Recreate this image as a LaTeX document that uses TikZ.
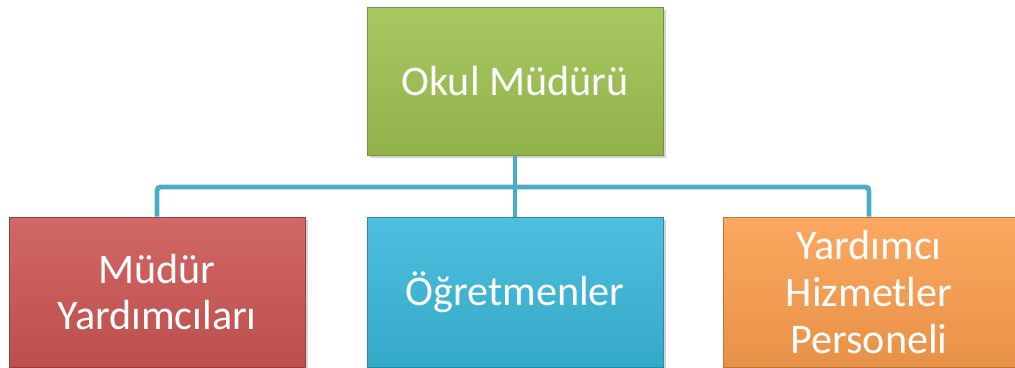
\documentclass[tikz,border=0pt]{standalone}
\usepackage{fontspec}
\setmainfont{Carlito}
\definecolor{okgreen}{RGB}{158,194,80}
\definecolor{okred}{RGB}{204,86,84}
\definecolor{okblue}{RGB}{58,184,218}
\definecolor{okorange}{RGB}{252,158,78}
\definecolor{okline}{RGB}{75,172,198}
\usetikzlibrary{positioning,shadows,calc}
\tikzset{
  obox/.style={rectangle,draw=#1!75!black,line width=0.5pt,
               top color=#1!90!white,bottom color=#1!92!black,
               minimum width=5.92cm,minimum height=2.96cm,
               text=white,align=center,
               font=\fontsize{24}{26.5}\selectfont,
               drop shadow={opacity=0.35,shadow xshift=0.06cm,shadow yshift=-0.06cm}},
  conn/.style={line width=2.8pt,color=okline,rounded corners=2pt},
}
\begin{document}
\begin{tikzpicture}[x=0.02cm,y=-0.02cm]
  \useasboundingbox (0,0) rectangle (1015,368);

  % ── Top
  \node[obox=okgreen] (mudur) at (515,81) {Okul Müdürü};

  % ── Bottom row
  \node[obox=okred,minimum height=3.0cm]    (yard)  at (157,292) {Müdür\\Yardımcıları};
  \node[obox=okblue,minimum height=3.0cm]   (ogret) at (515,292) {Öğretmenler};
  \node[obox=okorange,minimum height=3.0cm,minimum width=5.84cm] (pers) at (869,292)
    {Yardımcı\\Hizmetler\\Personeli};

  % ── Connectors
  \coordinate (bus) at (515,187);
  \draw[conn] (mudur.south) -- (bus);
  \draw[conn] (bus) -| (yard.north);
  \draw[conn] (bus) -- (ogret.north);
  \draw[conn] (bus) -| (pers.north);
\end{tikzpicture}
\end{document}
